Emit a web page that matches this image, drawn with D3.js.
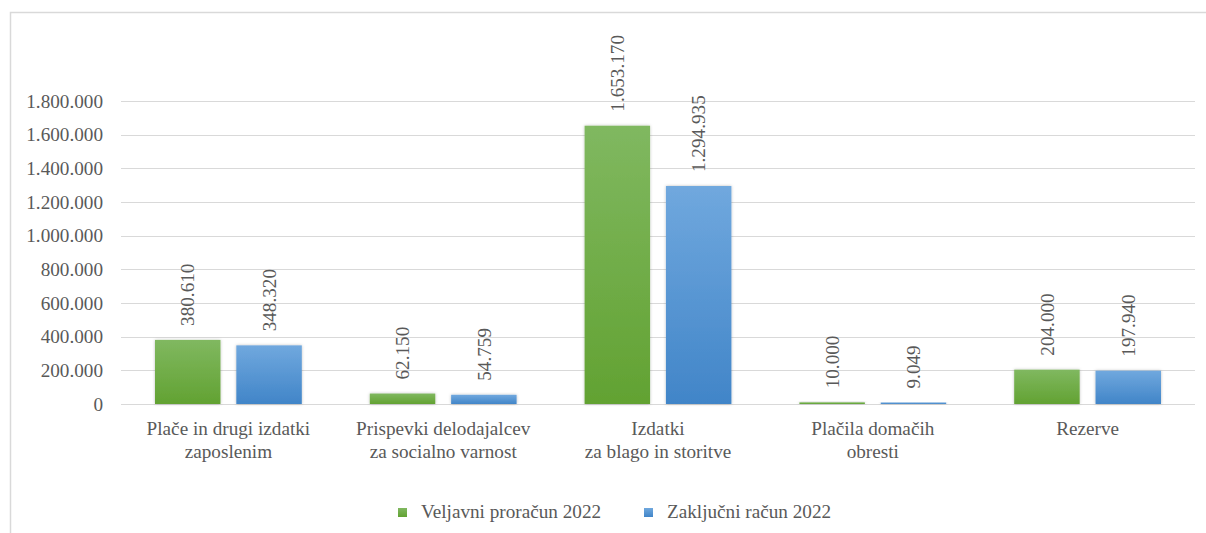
<!DOCTYPE html>
<html>
<head>
<meta charset="utf-8">
<script src="https://cdn.jsdelivr.net/npm/d3@7"></script>
<style>
  body { margin: 0; background: #fff; }
  svg text { font-family: "Liberation Serif", "Times New Roman", serif; fill: #595959; }
</style>
</head>
<body>
<svg id="chart" width="1206" height="533"></svg>
<script>
const categories = [
  ['Plače in drugi izdatki', 'zaposlenim'],
  ['Prispevki delodajalcev', 'za socialno varnost'],
  ['Izdatki', 'za blago in storitve'],
  ['Plačila domačih', 'obresti'],
  ['Rezerve']
];
const seriesNames = ['Veljavni proračun 2022', 'Zaključni račun 2022'];
const veljavni = [380610, 62150, 1653170, 10000, 204000];
const zakljucni = [348320, 54759, 1294935, 9049, 197940];
const yTicks = [0, 200000, 400000, 600000, 800000, 1000000, 1200000, 1400000, 1600000, 1800000];

const W = 1206, H = 533;
const margin = { left: 121, right: 11, top: 101, bottom: 129 };
const FS = '19.2px';
const svg = d3.select('#chart');

const fmt = v => d3.format(',')(v).replace(/,/g, '.');

// outer frame
svg.append('rect')
  .attr('x', 10.5).attr('y', 12.5)
  .attr('width', W).attr('height', H)
  .attr('fill', 'none').attr('stroke', '#d9d9d9').attr('stroke-width', 1.5);

const defs = svg.append('defs');
const grads = [['#80b860', '#62a232'], ['#70a8de', '#4185c8']];
grads.forEach(([top, bottom], i) => {
  const g = defs.append('linearGradient').attr('id', 'g' + i)
    .attr('x1', 0).attr('y1', 0).attr('x2', 0).attr('y2', 1);
  g.append('stop').attr('offset', 0).attr('stop-color', top);
  g.append('stop').attr('offset', 1).attr('stop-color', bottom);
});
const shadow = defs.append('filter').attr('id', 'shadow')
  .attr('x', '-20%').attr('y', '-20%').attr('width', '140%').attr('height', '140%');
shadow.append('feDropShadow').attr('dx', 0).attr('dy', 0)
  .attr('stdDeviation', 1.5).attr('flood-color', '#000').attr('flood-opacity', 0.25);

const x0 = d3.scaleBand()
  .domain(d3.range(categories.length))
  .range([margin.left, W - margin.right]);

const x1 = d3.scaleBand()
  .domain([0, 1])
  .range([34, x0.bandwidth() - 34])
  .paddingInner(0.195);

const y = d3.scaleLinear()
  .domain([0, 1800000])
  .range([404, margin.top]);

// gridlines
svg.append('g')
  .selectAll('line')
  .data(yTicks)
  .join('line')
  .attr('x1', margin.left).attr('x2', W - margin.right)
  .attr('y1', d => Math.round(y(d)) + 0.5).attr('y2', d => Math.round(y(d)) + 0.5)
  .attr('stroke', '#d9d9d9').attr('stroke-width', 1.2);

// y axis labels
const yAxis = d3.axisLeft(y).tickValues(yTicks).tickFormat(fmt).tickSize(0).tickPadding(18);
const gy = svg.append('g').attr('transform', `translate(${margin.left},0)`).call(yAxis);
gy.select('.domain').remove();
gy.selectAll('text').style('font-size', FS).attr('fill', '#595959')
  .style('font-family', '"Liberation Serif", serif');

const rows = categories.map((c, i) => ({ i, vals: [veljavni[i], zakljucni[i]] }));

const groups = svg.append('g').selectAll('g')
  .data(rows)
  .join('g')
  .attr('transform', d => `translate(${x0(d.i)},0)`);

groups.selectAll('rect')
  .data(d => d.vals.map((v, s) => ({ v, s })))
  .join('rect')
  .attr('x', d => x1(d.s))
  .attr('width', x1.bandwidth())
  .attr('y', d => y(d.v))
  .attr('height', d => Math.max(y(0) - y(d.v), 1.5))
  .attr('fill', d => `url(#g${d.s})`)
  .attr('filter', 'url(#shadow)');

groups.selectAll('text.val')
  .data(d => d.vals.map((v, s) => ({ v, s })))
  .join('text')
  .attr('class', 'val')
  .attr('transform', d => `translate(${x1(d.s) + x1.bandwidth() / 2},${y(d.v) - 14}) rotate(-90)`)
  .attr('dy', '0.35em')
  .style('font-size', FS)
  .text(d => fmt(d.v));

// category labels
const cat = svg.append('g').selectAll('text')
  .data(categories)
  .join('text')
  .attr('x', (d, i) => x0(i) + x0.bandwidth() / 2)
  .attr('y', 435)
  .attr('text-anchor', 'middle')
  .style('font-size', FS);
cat.selectAll('tspan')
  .data(d => d)
  .join('tspan')
  .attr('x', function () { return this.parentNode.getAttribute('x'); })
  .attr('dy', (d, j) => j === 0 ? 0 : 23)
  .text(d => d);

// legend
const legendX = [398, 644];
const legend = svg.append('g').selectAll('g')
  .data(seriesNames)
  .join('g')
  .attr('transform', (d, i) => `translate(${legendX[i]},508)`);
legend.append('rect')
  .attr('width', 9).attr('height', 9)
  .attr('fill', (d, i) => `url(#g${i})`);
legend.append('text')
  .attr('x', 23).attr('y', 9.5)
  .style('font-size', FS)
  .text(d => d);
</script>
</body>
</html>
